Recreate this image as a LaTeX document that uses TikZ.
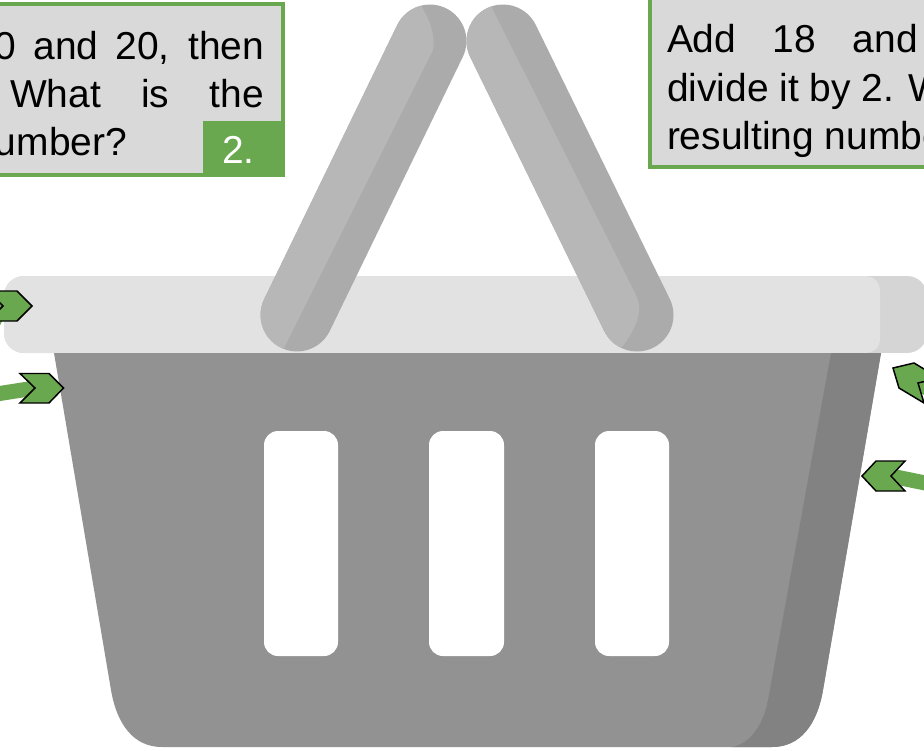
\documentclass[tikz,border=0pt]{standalone}
\usepackage{fontspec}
\setmainfont{Liberation Sans}
\definecolor{grn}{HTML}{6AA84F}
\definecolor{boxgray}{HTML}{D9D9D9}
\definecolor{rimlight}{HTML}{E2E2E2}
\definecolor{rimdark}{HTML}{D5D5D5}
\definecolor{bodylight}{HTML}{929292}
\definecolor{bodydark}{HTML}{828282}
\definecolor{handlelight}{HTML}{B7B7B7}
\definecolor{handledark}{HTML}{ABABAB}
\tikzset{
  txt/.style={inner sep=0pt,outer sep=0pt,text=black,font=\fontsize{29.2}{35}\selectfont,anchor=base west},
  txtr/.style={txt,anchor=base east},
  qbox/.style={draw=grn,fill=boxgray,line width=3pt},
  slot/.style={fill=white,rounded corners=10.5pt},
  band/.style={draw=grn,line width=11.25pt},
  chev/.style={fill=grn,draw=black,line width=1.1pt,line join=miter}
}
\begin{document}
\begin{tikzpicture}[x=0.75pt,y=-0.75pt]
\useasboundingbox (0,0) rectangle (924,750);
\clip (0,0) rectangle (924,750);
\fill[white] (0,0) rectangle (924,750);
% rim
\begin{scope}
  \clip[rounded corners=15pt] (4,276) rectangle (927,353);
  \fill[rimdark] (4,276) rectangle (930,353);
  \fill[rimlight] (0,276) -- (864,276) .. controls (874,276) and (880,282) .. (880,292)
     -- (880,338) .. controls (880,348) and (874,353) .. (864,353) -- (0,353) -- cycle;
\end{scope}
% basket body
\begin{scope}
  \clip (54,353) -- (881,353) -- (823,690) .. controls (817,725) and (800,747) .. (772,747)
     -- (162,747) .. controls (134,747) and (117,725) .. (111,690) -- cycle;
  \fill[bodylight] (40,340) rectangle (900,750);
  \fill[bodydark] (831,353) -- (768,700) .. controls (763,727) and (748,747) .. (726,748)
     -- (900,750) -- (900,353) -- cycle;
\end{scope}
\fill[slot] (264,431) rectangle (338,656);
\fill[slot] (429,431) rectangle (504,656);
\fill[slot] (595,431) rectangle (669,656);
% left handle
\begin{scope}
  \clip (397.2,25.1) .. controls (406,7) and (427.8,-0.6) .. (445.9,8.2)
     .. controls (464,17) and (471.6,38.8) .. (462.8,56.9)
     -- (329.8,330.9) .. controls (321,349) and (299.2,356.6) .. (281.1,347.8)
     .. controls (263,339) and (255.4,317.2) .. (264.2,299.1) -- cycle;
  \fill[handledark] (240,0) rectangle (480,360);
  \fill[handlelight] (240,360) -- (279,360) -- (283,350) -- (433,50)
     .. controls (436,35) and (428,15) .. (419,3) -- (240,3) -- cycle;
\end{scope}
% right handle
\begin{scope}
  \clip (470.2,57) .. controls (461.4,38.9) and (468.9,17) .. (487,8.2)
     .. controls (505.1,-0.6) and (527,6.9) .. (535.8,25)
     -- (669.8,299) .. controls (678.6,317.1) and (671.1,339) .. (653,347.8)
     .. controls (634.9,356.6) and (613,349.1) .. (604.2,331) -- cycle;
  \fill[handledark] (450,0) rectangle (690,360);
  \fill[handlelight] (450,0) -- (488,0) -- (636,295) .. controls (644,312) and (636,330) .. (618,352)
     -- (610,360) -- (450,360) -- cycle;
\end{scope}
% arrows
\coordinate (al) at (-10,395);
\coordinate (aln) at (35,388);
\draw[band] (al) -- (aln);
\fill[chev,draw=black] (aln) -- (20,373.5) -- (49,373.5) -- (63.5,388) -- (49,403) -- (20,403) -- cycle;
\coordinate (bl) at (-8,328);
\coordinate (bln) at (3,306);
\draw[band,line width=9pt] (bl) -- (bln);
\fill[chev,draw=black] (bln) -- (-12,291) -- (17,291) -- (32,306) -- (17,321) -- (-12,321) -- cycle;
\coordinate (ar) at (935,485);
\coordinate (arn) at (891,476);
\draw[band] (ar) -- (arn);
\fill[chev,draw=black] (arn) -- (905,461) -- (876,461) -- (862,476) -- (876,491) -- (905,491) -- cycle;
\coordinate (br) at (948,400);
\coordinate (brn) at (918,383);
\draw[band] (br) -- (brn);
\fill[chev,draw=black] (brn) -- (939,378) -- (914,363) -- (893,368) -- (899,388) -- (924,403) -- cycle;
% left question box
\path[qbox,draw=grn] (-20,4) rectangle (283,175);
\node[txtr] (l1) at (264,59) {\makebox[201.75pt][s]{0 and 20, then}};
\node[txtr] (l2) at (264,107) {\makebox[190.5pt][s]{What is the}};
\node[txtr] (l3) at (127,155) {number?};
\fill[grn] (203,121) rectangle (285,177);
\node[txt,text=white,anchor=base] (tag) at (238.5,163) {2.};
% right question box
\path[qbox,draw=grn] (650,-20) rectangle (945,167);
\node[txt] (r1) at (667,52) {\makebox[188.25pt][s]{Add 18 and}};
\node[txt] (r2) at (667,101) {divide it by 2. What};
\node[txt] (r3) at (667,149) {resulting number?};
\end{tikzpicture}
\end{document}
